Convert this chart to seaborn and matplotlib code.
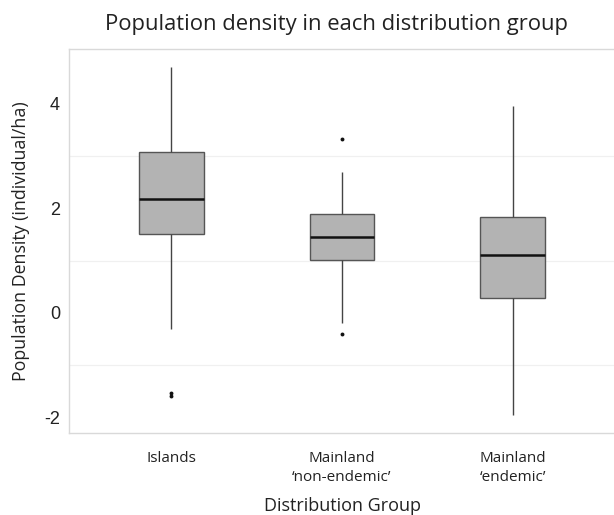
import matplotlib
matplotlib.use("Agg")
import matplotlib.pyplot as plt
import seaborn as sns
import pandas as pd

groups = ["Islands", "Mainland\n\u2018non-endemic\u2019", "Mainland\n\u2018endemic\u2019"]
# five-number summaries: lower whisker, Q1, median, Q3, upper whisker
islands_summary = [-0.30, 1.51, 2.17, 3.07, 4.71]
nonendemic_summary = [-0.19, 1.01, 1.45, 1.89, 2.69]
endemic_summary = [-1.96, 0.28, 1.11, 1.83, 3.96]
islands_outliers = [-1.53, -1.60]
nonendemic_outliers = [3.33, -0.41]
endemic_outliers = []

summaries = [islands_summary, nonendemic_summary, endemic_summary]
outliers = [islands_outliers, nonendemic_outliers, endemic_outliers]

box_df = pd.DataFrame(
    [(g, v) for g, s in zip(groups, summaries) for v in s], columns=["group", "density"]
)
out_df = pd.DataFrame(
    [(g, v) for g, s in zip(groups, outliers) for v in s], columns=["group", "density"]
)

sns.set_theme(style="white")
plt.rcParams["font.family"] = ["Open Sans", "DejaVu Sans"]

fig = plt.figure(figsize=(6.14, 5.15), dpi=100)
ax = fig.add_axes([69 / 614, 82 / 515, 546 / 614, 384 / 515])

sns.boxplot(
    data=box_df, x="group", y="density", order=groups, whis=(0, 100), width=0.38,
    color="#b3b3b3", saturation=1, linewidth=1.0, showfliers=False,
    boxprops=dict(facecolor="#b3b3b3", edgecolor="#555555", linewidth=1.0),
    whiskerprops=dict(color="#444444", linewidth=1.0),
    capprops=dict(linewidth=0),
    medianprops=dict(color="#111111", linewidth=1.8),
    ax=ax, zorder=3,
)
sns.stripplot(
    data=out_df, x="group", y="density", order=groups, jitter=False,
    color="#111111", size=2.8, linewidth=0, ax=ax, zorder=4,
)

ax.set_xlim(-0.6, 2.6)
ax.set_ylim(-2.30, 5.05)
ax.set_yticks([-2, 0, 2, 4])
ax.set_yticklabels(["-2", "0", "2", "4"], family=["Liberation Sans"], fontsize=13, color="#222222")
ax.set_yticks([-1, 1, 3], minor=True)
ax.grid(False)
for v in [-1, 1, 3]:
    ax.axhline(v, color="#f0f0f0", linewidth=0.9, zorder=0)

for s in ["left", "top", "bottom"]:
    ax.spines[s].set_color("#d9d9d9")
    ax.spines[s].set_linewidth(1.0)
ax.spines["right"].set_visible(False)

ax.tick_params(axis="both", which="major", length=3, width=0.8, color="#aaaaaa")
ax.tick_params(axis="y", which="minor", length=0)
ax.tick_params(axis="x", pad=10)
for lbl in ax.get_xticklabels():
    lbl.set_fontsize(11)
    lbl.set_color("#222222")
    lbl.set_linespacing(1.35)

ax.set_xlabel("Distribution Group", fontsize=13, color="#222222", labelpad=9)
ax.set_ylabel("Population Density (individual/ha)", fontsize=12.8, color="#222222", labelpad=10)
fig.suptitle("Population density in each distribution group", fontsize=15.8, color="#222222",
             x=0.548, y=0.972, va="top")

fig.savefig("out.png", dpi=100)
